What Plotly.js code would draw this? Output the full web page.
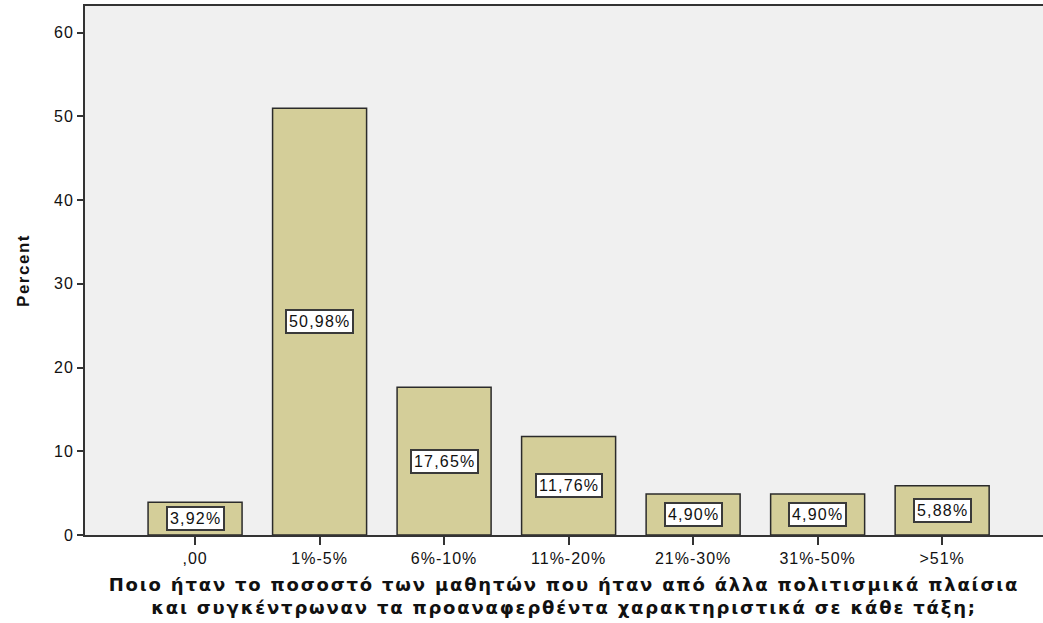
<!DOCTYPE html>
<html><head><meta charset="utf-8">
<script src="https://cdn.plot.ly/plotly-3.0.1.min.js"></script>
<style>
html,body{margin:0;padding:0;background:#fff}
.xtick text, .ytick text { letter-spacing: 1px; }
.annotation-text { letter-spacing: 1.2px; }
.ytitle { letter-spacing: 1.5px; }
.xtitle { letter-spacing: 1.8px; }
</style>
</head><body>
<div id="chart" style="width:1043px;height:623px"></div>
<script>
const categories = [",00", "1%-5%", "6%-10%", "11%-20%", "21%-30%", "31%-50%", ">51%"];
const percents = [3.92, 50.98, 17.65, 11.76, 4.90, 4.90, 5.88];
const labels = ["3,92%", "50,98%", "17,65%", "11,76%", "4,90%", "4,90%", "5,88%"];
const yTicks = [0, 10, 20, 30, 40, 50, 60];

const idx = categories.map((c, i) => i);
const trace = {
  type: 'bar', x: idx, y: percents, width: 0.755,
  marker: {color: '#d4ce99', line: {color: '#2b2b2b', width: 1.5}},
  hoverinfo: 'skip'
};
const annotations = idx.map(i => ({
  x: i, y: percents[i] / 2, xref: 'x', yref: 'y', text: labels[i], showarrow: false,
  bgcolor: '#ffffff', bordercolor: '#3a3a3a', borderwidth: 2, borderpad: 2,
  font: {family: 'Liberation Sans, Arial, sans-serif', size: 16, color: '#111'}
}));
const layout = {
  width: 1043, height: 623,
  margin: {l: 85, r: 0, t: 6, b: 88},
  paper_bgcolor: '#ffffff', plot_bgcolor: '#f0f0f0',
  showlegend: false, bargap: 0,
  font: {family: 'Liberation Sans, Arial, sans-serif', color: '#111'},
  xaxis: {
    range: [-0.884, 6.81], tickvals: idx, ticktext: categories,
    ticks: 'outside', ticklen: 8, tickwidth: 2, tickcolor: '#333',
    showline: true, linecolor: '#333', linewidth: 2, mirror: true,
    showgrid: false, zeroline: false,
    tickfont: {size: 16, color: '#111'},
    title: {text: '<b>Ποιο ήταν το ποσοστό των μαθητών που ήταν από άλλα πολιτισμικά πλαίσια<br>και συγκέντρωναν τα προαναφερθέντα χαρακτηριστικά σε κάθε τάξη;</b>',
            font: {family: 'DejaVu Sans, Verdana, sans-serif', size: 18, color: '#111'}, standoff: 12}
  },
  yaxis: {
    range: [0, 63.2], tickvals: yTicks,
    ticks: 'outside', ticklen: 6, tickwidth: 2, tickcolor: '#333',
    showline: true, linecolor: '#333', linewidth: 2, mirror: true,
    showgrid: false, zeroline: false,
    tickfont: {size: 16, color: '#111'},
    title: {text: '<b>Percent</b>', font: {size: 17, color: '#111'}, standoff: 20}
  },
  annotations: annotations
};
Plotly.newPlot('chart', [trace], layout, {displayModeBar: false, staticPlot: true});
</script>
</body></html>
